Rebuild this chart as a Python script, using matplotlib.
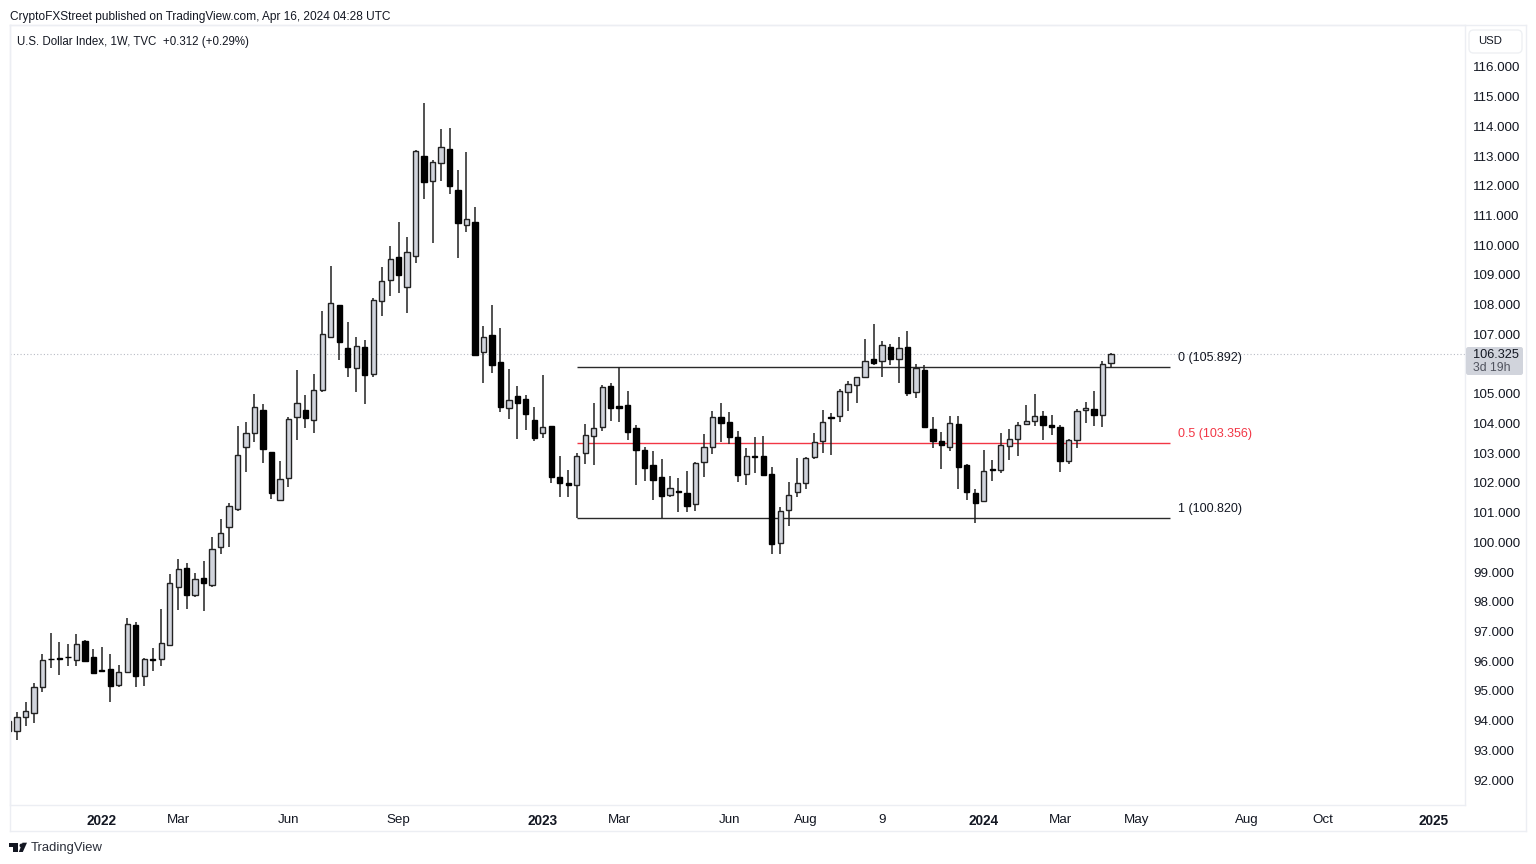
import matplotlib
matplotlib.use("Agg")
import matplotlib.pyplot as plt
from matplotlib.patches import FancyBboxPatch, Polygon
from matplotlib.lines import Line2D

plt.rcParams['font.family'] = ['Liberation Sans', 'DejaVu Sans']

# Weekly candles, U.S. Dollar Index
highs = [94.0,94.30,94.62,95.27,96.24,96.95,96.66,96.59,96.90,96.70,96.41,96.48,96.23,95.87,97.44,97.31,96.11,96.43,97.75,98.92,
99.43,99.31,98.96,99.37,100.19,100.78,101.33,103.93,104.06,104.99,104.65,103.05,102.74,104.23,105.79,104.96,105.66,107.79,109.30,107.99,
107.43,106.92,106.81,108.21,109.28,109.98,110.79,110.27,113.21,114.78,112.87,113.92,113.95,112.53,113.15,111.27,107.28,107.99,107.2,105.82,
105.26,104.95,104.57,105.63,103.92,102.9,102.44,103.01,103.97,104.68,105.3,105.35,105.9,105.1,103.96,103.22,103.06,102.8,102.23,102.16,
102.41,102.71,103.64,104.42,104.7,104.4,103.76,103.17,103.55,103.58,102.55,101.18,102.04,102.85,102.88,103.68,104.45,104.34,105.16,105.44,
105.58,106.84,107.35,106.78,106.67,106.9,107.12,106.0,105.97,104.21,103.72,104.26,104.26,102.64,101.78,103.11,102.77,103.69,103.82,104.04,
104.61,104.98,104.42,104.3,103.96,103.49,104.49,104.73,105.1,106.11,106.38]
lows = [93.6,93.34,93.82,93.91,94.97,95.77,95.53,95.85,95.85,96.0,95.57,95.67,94.64,95.14,95.62,95.14,95.18,95.67,95.85,96.52,
97.72,97.75,98.16,97.70,98.49,99.60,99.85,101.05,102.38,103.39,102.68,101.45,101.42,101.87,103.44,103.86,103.69,105.07,106.88,106.14,
105.58,105.07,104.66,105.58,107.6,108.3,108.38,107.71,109.39,111.57,110.09,112.17,111.71,109.56,110.43,106.28,105.35,105.71,104.38,104.14,
103.47,103.77,103.41,103.5,102.0,101.54,101.53,100.82,102.65,102.6,103.76,104.09,104.06,103.44,101.93,102.05,101.43,100.83,101.54,101.03,
101.03,101.05,102.21,102.98,103.39,103.31,102.02,101.93,102.33,102.27,99.6,99.61,100.56,101.54,101.81,102.79,103.02,102.94,104.04,104.43,
104.68,105.55,105.97,105.56,105.98,105.37,104.94,104.87,103.84,103.19,102.48,103.08,101.78,101.43,100.64,101.37,102.07,102.32,102.77,102.92,
103.95,103.92,103.44,103.62,102.37,102.65,103.19,104.03,103.92,103.89,105.85]
opens = [94.0,93.66,94.13,94.25,95.13,96.09,96.12,96.15,96.04,96.67,96.15,95.72,95.74,95.21,95.65,97.22,95.49,96.07,96.08,96.54,
98.51,99.13,98.23,98.80,98.56,99.85,100.51,101.12,103.22,103.67,104.45,103.03,101.44,102.18,104.21,104.44,104.13,105.14,106.9,107.99,
106.53,105.85,106.57,105.68,108.11,108.84,109.59,108.6,109.65,113.01,112.17,112.76,113.23,111.87,110.68,110.78,106.42,106.97,106.06,104.51,
104.94,104.83,104.12,103.67,103.92,102.19,102.0,101.92,103.0,103.59,103.89,105.26,104.58,104.63,103.86,103.11,102.59,102.19,101.59,101.72,
101.66,101.3,102.71,103.2,104.23,104.04,103.55,102.3,102.9,102.91,102.29,99.97,101.09,101.7,102.01,102.86,103.42,104.23,104.26,105.07,
105.31,105.57,106.17,106.1,106.57,106.16,106.59,105.07,105.8,103.81,103.41,103.2,103.97,102.59,101.65,101.4,102.47,102.45,103.24,103.48,
103.97,104.09,104.26,103.96,103.87,102.74,103.45,104.44,104.48,104.3,106.03]
closes = [93.65,94.11,94.31,95.12,96.03,96.06,96.09,96.13,96.57,96.02,95.59,95.68,95.17,95.64,97.26,95.49,96.08,96.04,96.61,98.64,
99.11,98.23,98.78,98.64,99.79,100.32,101.22,102.94,103.67,104.54,103.14,101.67,102.13,104.14,104.69,104.19,105.13,107.0,108.07,106.73,
105.91,106.61,105.63,108.17,108.8,109.53,109.01,109.76,113.18,112.13,112.79,113.32,112.0,110.76,110.87,106.3,106.92,105.97,104.55,104.8,
104.7,104.31,103.52,103.87,102.21,102.0,101.94,102.92,103.62,103.86,105.22,104.53,104.52,103.71,103.12,102.51,102.09,101.56,101.82,101.68,
101.21,102.68,103.2,104.21,104.0,103.56,102.26,102.91,102.86,102.28,99.93,101.05,101.6,102.01,102.84,103.37,104.06,104.19,105.08,105.32,
105.58,106.1,106.05,106.64,106.17,106.54,105.02,105.86,103.89,103.41,103.28,104.01,102.55,101.7,101.33,102.41,102.43,103.28,103.47,103.96,
104.07,104.26,103.96,103.88,102.75,103.43,104.43,104.53,104.3,106.01,106.33]

# The 106.000 label is covered by the last-price tag in the reference
price_ticks = [p for p in range(92, 117) if p != 106]
x_tick_pos = [11, 20, 33, 46, 63, 72, 85, 94, 103, 115, 124, 133, 146, 155, 168]
x_tick_lab = ['2022', 'Mar', 'Jun', 'Sep', '2023', 'Mar', 'Jun', 'Aug', '9', '2024', 'Mar', 'May', 'Aug', 'Oct', '2025']
year_labels = {'2022', '2023', '2024', '2025'}

fib_levels = [105.892, 103.356, 100.820]
fib_labels = ['0 (105.892)', '0.5 (103.356)', '1 (100.820)']
fib_colors = ['#2a2a2a', '#F23645', '#2a2a2a']
fib_start, fib_end = 67, 137
last_price = 106.325

W, H = 1536, 864
fig = plt.figure(figsize=(W / 100, H / 100), dpi=100, facecolor='white')
fx = lambda x: x / W
fy = lambda y: 1 - y / H

ax = fig.add_axes([fx(10), fy(805), (1465 - 10) / W, (805 - 25) / H])
ax.set_xlim(0.17, 171.75)
ax.set_ylim(91.16, 117.41)
ax.set_facecolor('white')

idx = list(range(len(opens)))
ups = [c >= o for o, c in zip(opens, closes)]

ax.axhline(last_price, color='#B8BBC4', lw=0.8, ls=(0, (1, 2)), zorder=1)

for lvl, col in zip(fib_levels, fib_colors):
    ax.hlines(lvl, fib_start, fib_end, color=col, lw=1.0, zorder=2)

ax.vlines(idx, lows, highs, color='#222222', lw=1.1, zorder=3)
ax.bar([i for i in idx if ups[i]],
       [closes[i] - opens[i] for i in idx if ups[i]],
       bottom=[opens[i] for i in idx if ups[i]],
       width=0.62, facecolor='#D1D4DC', edgecolor='#222222', linewidth=1.0, zorder=4)
ax.bar([i for i in idx if not ups[i]],
       [opens[i] - closes[i] for i in idx if not ups[i]],
       bottom=[closes[i] for i in idx if not ups[i]],
       width=0.62, facecolor='black', edgecolor='black', linewidth=1.0, zorder=4)

for lvl, lab, col in zip(fib_levels, fib_labels, fib_colors):
    ax.annotate(lab, xy=(fib_end, lvl), xytext=(8, 9), textcoords='offset pixels',
                fontsize=9.0, color='#131722' if col != '#F23645' else col,
                va='center', ha='left', zorder=6)

ax.yaxis.tick_right()
ax.set_yticks(price_ticks)
ax.set_yticklabels([f'{v:.3f}' for v in price_ticks], fontsize=9.6, color='#131722')
ax.tick_params(axis='y', length=0, pad=6)
ax.set_xticks(x_tick_pos)
ax.set_xticklabels(x_tick_lab, fontsize=9.6, color='#131722')
for t in ax.get_xticklabels():
    if t.get_text() in year_labels:
        t.set_fontweight('bold')
        t.set_fontsize(9.8)
ax.tick_params(axis='x', length=0, pad=6.8)
border = '#ECEEF3'
for s in ax.spines.values():
    s.set_color(border)
    s.set_linewidth(1.0)

# outer frame and right / bottom panels
for xs, ys in [((10, 10), (25, 831)), ((10, 1526), (831, 831)), ((1526, 1526), (25, 831)), ((10, 1526), (25, 25))]:
    fig.add_artist(Line2D([fx(xs[0]), fx(xs[1])], [fy(ys[0]), fy(ys[1])], color=border, lw=1.0))

# USD button
fig.add_artist(FancyBboxPatch((fx(1469), fy(53)), 53 / W, 23 / H, boxstyle='round,pad=0,rounding_size=0.003',
                              mutation_aspect=W / H, facecolor='white', edgecolor='#EEF0F3', lw=1.0,
                              transform=fig.transFigure))
fig.text(fx(1478), fy(41.5), 'USD', fontsize=8.2, color='#131722', va='center', ha='left')

# last price tag
fig.add_artist(FancyBboxPatch((fx(1466), fy(375)), 57 / W, 28 / H, boxstyle='round,pad=0,rounding_size=0.0015',
                              mutation_aspect=W / H, facecolor='#D1D4DC', edgecolor='none',
                              transform=fig.transFigure, zorder=5))
fig.text(fx(1473), fy(354.5), f'{last_price:.3f}', fontsize=9.2, color='#131722', va='center', ha='left', zorder=6)
fig.text(fx(1473), fy(368), '3d 19h', fontsize=8.8, color='#50535E', va='center', ha='left', zorder=6)

# header texts
fig.text(fx(10), fy(17), 'CryptoFXStreet published on TradingView.com, Apr 16, 2024 04:28 UTC',
         fontsize=8.6, color='#131722', va='center', ha='left')
fig.text(fx(17), fy(42.5), 'U.S. Dollar Index, 1W, TVC  +0.312 (+0.29%)',
         fontsize=8.3, color='#131722', va='center', ha='left')

# footer logo and wordmark
fig.add_artist(Polygon([(fx(9.3), fy(842.7)), (fx(18.3), fy(842.7)), (fx(18.3), fy(852)), (fx(13), fy(852)),
                        (fx(13), fy(846.5)), (fx(9.3), fy(846.5))], closed=True, facecolor='#131722',
                       edgecolor='none', transform=fig.transFigure))
fig.add_artist(Polygon([(fx(22.5), fy(842.7)), (fx(27), fy(842.7)), (fx(22.8), fy(852)), (fx(18.8), fy(852))],
                       closed=True, facecolor='#131722', edgecolor='none', transform=fig.transFigure))
fig.add_artist(Line2D([fx(20.6)], [fy(844.6)], marker='o', ms=2.8, color='#131722', mew=0))
fig.text(fx(31), fy(848), 'TradingView', fontsize=9.4, color='#2a2e39', va='center', ha='left')

fig.savefig('out.png', dpi=100, facecolor='white')
